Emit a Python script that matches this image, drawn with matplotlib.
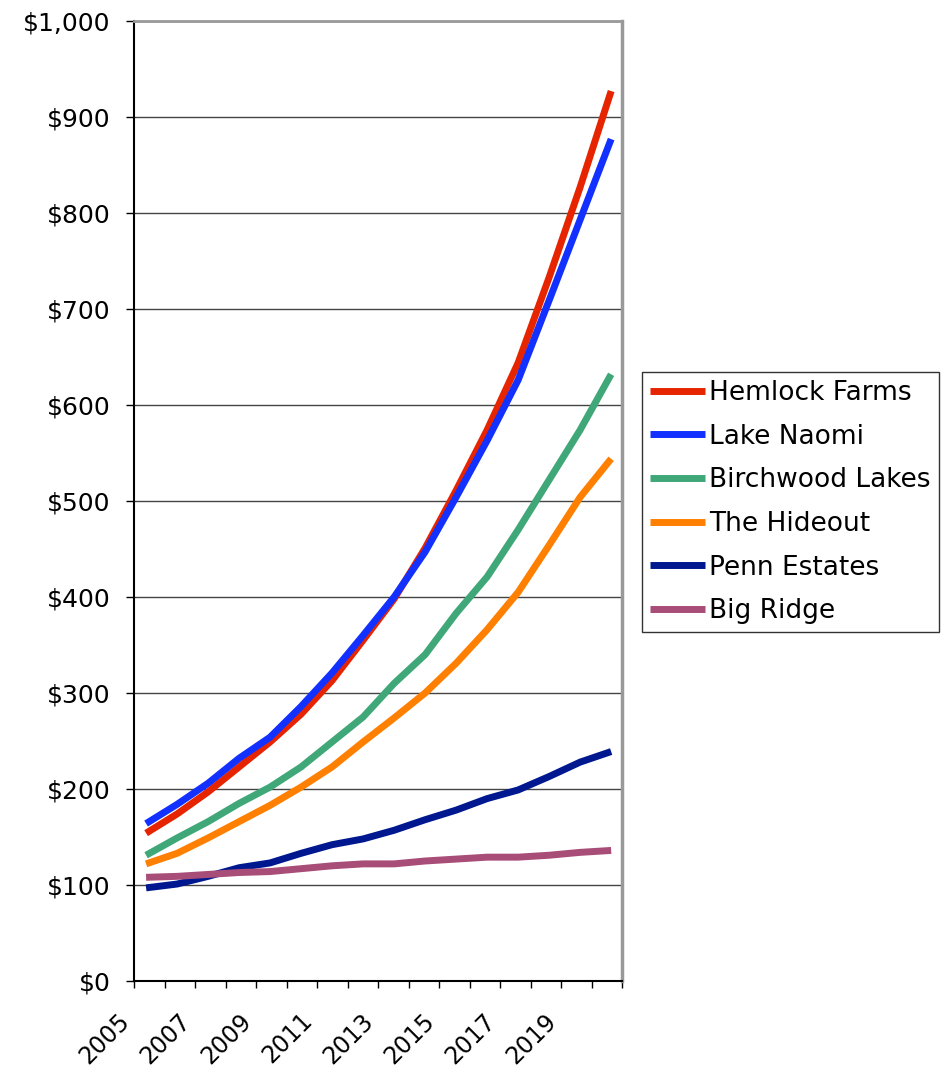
import numpy as np
import matplotlib.pyplot as plt
from matplotlib.ticker import FuncFormatter

years = list(range(2005, 2021))

hemlock_farms = [154, 174, 197, 223, 249, 278, 313, 355, 398, 451, 511, 574, 644, 733, 827, 927]
lake_naomi = [164, 184, 206, 232, 254, 286, 321, 360, 400, 447, 504, 563, 626, 709, 793, 877]
birchwood_lakes = [131, 149, 166, 185, 202, 223, 249, 275, 310, 340, 383, 421, 470, 522, 574, 632]
the_hideout = [122, 133, 149, 166, 183, 202, 223, 249, 274, 300, 331, 366, 405, 454, 504, 544]
penn_estates = [97, 101, 109, 118, 123, 133, 142, 148, 157, 168, 178, 190, 199, 213, 228, 239]
big_ridge = [108, 109, 111, 113, 114, 117, 120, 122, 122, 125, 127, 129, 129, 131, 134, 136]

names = ['Hemlock Farms', 'Lake Naomi', 'Birchwood Lakes', 'The Hideout', 'Penn Estates', 'Big Ridge']
colors = ['#E62400', '#1230FF', '#40A878', '#FF7F00', '#00188F', '#A84C78']

plt.rcParams['font.family'] = ['DejaVu Sans']

fig = plt.figure(figsize=(9.48, 10.72), dpi=100)
ax = fig.add_axes([134 / 948, 91 / 1072, 488 / 948, 960 / 1072])

x = np.arange(len(years))
series = [hemlock_farms, lake_naomi, birchwood_lakes, the_hideout, penn_estates, big_ridge]
for vals, name, c in zip(series, names, colors):
    ax.plot(x, vals, color=c, lw=5, label=name, solid_capstyle='butt', solid_joinstyle='miter')

xmin, xmax = -0.39, 15.35
ax.set_xlim(xmin, xmax)
ax.set_ylim(0, 1000)

# category boundaries as ticks, every other year labelled
xt = np.linspace(xmin, xmax, 17)
ax.set_xticks(xt)
xlabels = []
for k in range(17):
    if k % 2 == 0 and k < 16:
        xlabels.append(str(years[k]))
    else:
        xlabels.append('')
ax.set_xticklabels(xlabels, rotation=45, ha='right', fontsize=17)

ax.set_yticks(np.arange(0, 1001, 100))
ax.yaxis.set_major_formatter(FuncFormatter(lambda v, p: '${:,.0f}'.format(v)))
ax.tick_params(axis='y', labelsize=18, direction='out', length=6, pad=11, width=1)
ax.tick_params(axis='x', direction='out', length=5, pad=15, width=1)

ax.grid(axis='y', color='#444444', lw=1)
ax.set_axisbelow(True)

ax.spines['left'].set_color('black')
ax.spines['left'].set_linewidth(1.5)
ax.spines['bottom'].set_color('black')
ax.spines['bottom'].set_linewidth(1.5)
ax.spines['right'].set_color('#999999')
ax.spines['right'].set_linewidth(2.5)
ax.spines['top'].set_color('#999999')
ax.spines['top'].set_linewidth(2)

leg = ax.legend(loc='upper left', bbox_to_anchor=(642 / 948, 1 - 372 / 1072),
                bbox_transform=fig.transFigure, fontsize=19, frameon=True,
                fancybox=False, edgecolor='black', borderaxespad=0, borderpad=0.3,
                handlelength=2.1, handletextpad=0.15, labelspacing=0.67)
leg.get_frame().set_linewidth(1)

plt.savefig('out.png', dpi=100)
